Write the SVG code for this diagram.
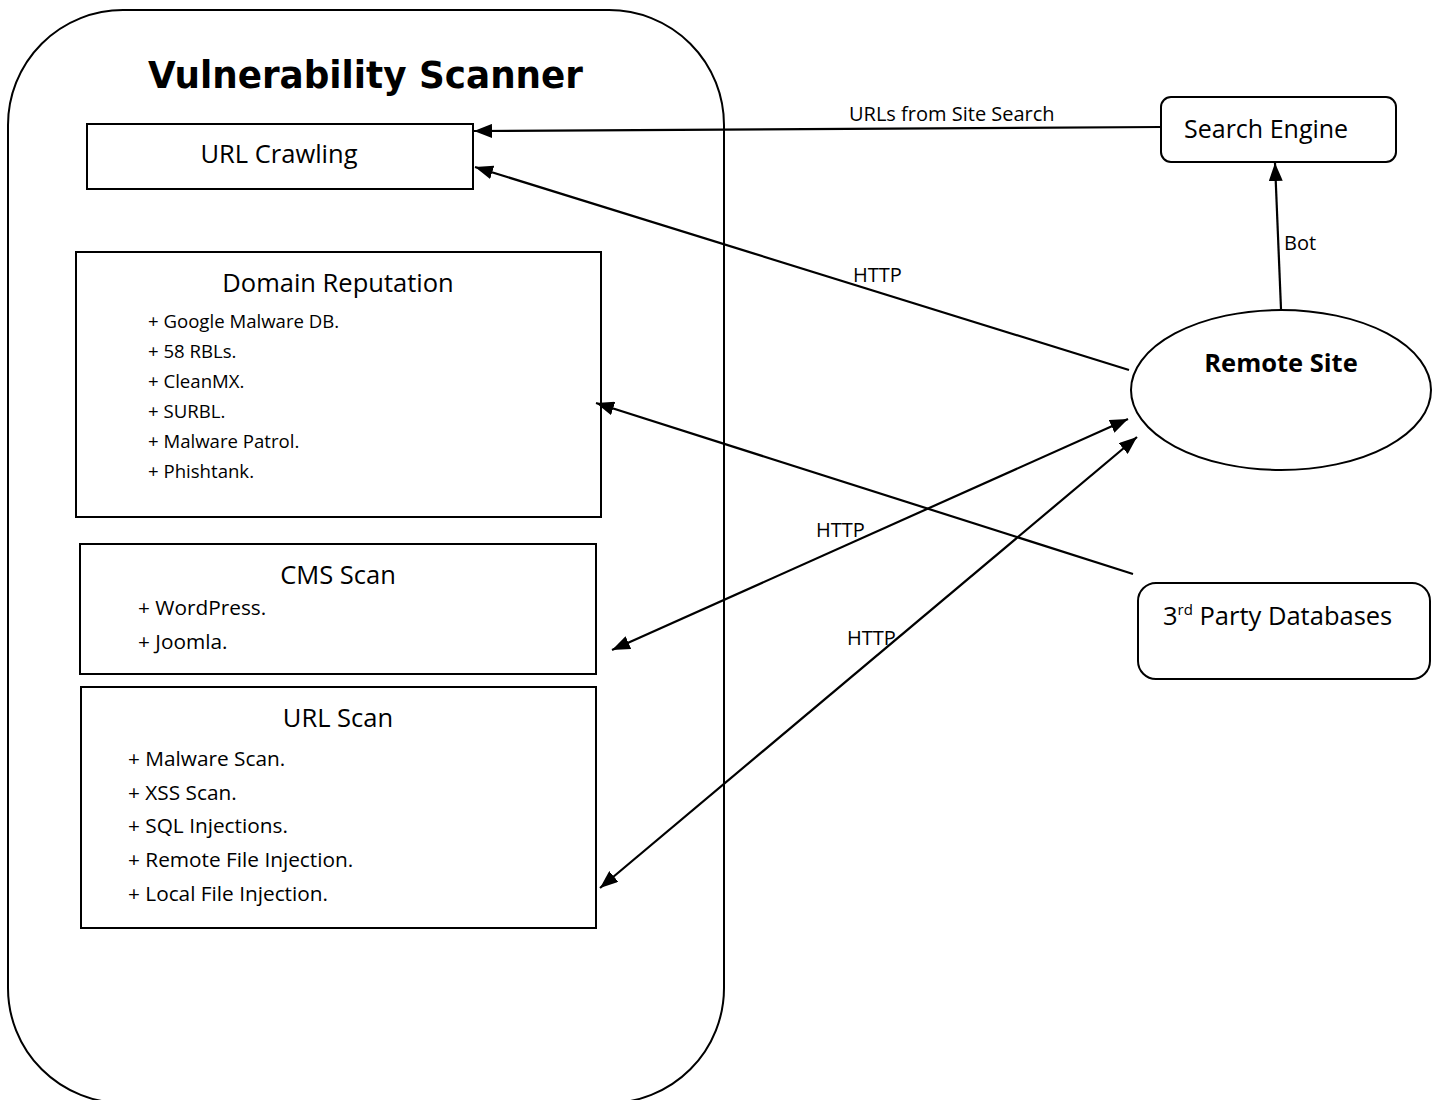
<svg xmlns="http://www.w3.org/2000/svg" width="1437" height="1100" viewBox="0 0 1437 1100">
  <defs>
    <style>
      .box { fill: #ffffff; stroke: #000000; stroke-width: 2; }
      .frame { fill: none; stroke: #000000; stroke-width: 2; }
      .link { fill: none; stroke: #000000; stroke-width: 2.2; }
      .t { font-family: "Open Sans", "Liberation Sans", sans-serif; fill: #000000; }
      .head { font-size: 25.5px; text-anchor: middle; }
      .item { font-size: 20.8px; }
      .small { font-size: 18.6px; }
      .lbl { font-size: 20px; }
      .title { font-family: "DejaVu Sans", "Liberation Sans", sans-serif; font-weight: bold; font-size: 37px; text-anchor: middle; }
    </style>
    <marker id="arrow" viewBox="0 0 18 14" refX="18" refY="7" markerWidth="18" markerHeight="14" markerUnits="userSpaceOnUse" orient="auto-start-reverse">
      <path d="M0,0 L18,7 L0,14 Z" fill="#000000"/>
    </marker>
  </defs>

  <rect width="1437" height="1100" fill="#ffffff"/>

  <!-- scanner container -->
  <g id="scanner">
    <rect class="frame" x="8" y="10" width="716" height="1093" rx="115" ry="115"/>
    <text class="title" x="365.5" y="88" textLength="435" lengthAdjust="spacingAndGlyphs">Vulnerability Scanner</text>
  </g>

  <g id="url-crawling">
    <rect class="box" x="87" y="124" width="386" height="65"/>
    <text class="t head" x="279" y="163" font-size="26.5px">URL Crawling</text>
  </g>

  <g id="domain-reputation">
    <rect class="box" x="76" y="252" width="525" height="265"/>
    <text class="t head" x="338" y="292">Domain Reputation</text>
    <text class="t small" x="148" y="328">+ Google Malware DB.</text>
    <text class="t small" x="148" y="358">+ 58 RBLs.</text>
    <text class="t small" x="148" y="388">+ CleanMX.</text>
    <text class="t small" x="148" y="418">+ SURBL.</text>
    <text class="t small" x="148" y="448">+ Malware Patrol.</text>
    <text class="t small" x="148" y="478">+ Phishtank.</text>
  </g>

  <g id="cms-scan">
    <rect class="box" x="80" y="544" width="516" height="130"/>
    <text class="t head" x="338" y="584">CMS Scan</text>
    <text class="t item" x="138" y="615">+ WordPress.</text>
    <text class="t item" x="138" y="649">+ Joomla.</text>
  </g>

  <g id="url-scan">
    <rect class="box" x="81" y="687" width="515" height="241"/>
    <text class="t head" x="338" y="727">URL Scan</text>
    <text class="t item" x="128" y="766">+ Malware Scan.</text>
    <text class="t item" x="128" y="800">+ XSS Scan.</text>
    <text class="t item" x="128" y="833">+ SQL Injections.</text>
    <text class="t item" x="128" y="867">+ Remote File Injection.</text>
    <text class="t item" x="128" y="901">+ Local File Injection.</text>
  </g>

  <g id="search-engine">
    <rect class="box" x="1161" y="97" width="235" height="65" rx="10" ry="10"/>
    <text class="t" x="1184" y="138" font-size="25px">Search Engine</text>
  </g>

  <g id="remote-site">
    <ellipse class="box" cx="1281" cy="390" rx="150" ry="80"/>
    <text class="t" x="1281" y="372" font-size="25.5px" font-weight="bold" text-anchor="middle">Remote Site</text>
  </g>

  <g id="third-party">
    <rect class="box" x="1138" y="583" width="292" height="96" rx="18" ry="18"/>
    <text class="t" x="1163" y="625" font-size="25.5px">3<tspan font-size="15px" dy="-10">rd</tspan><tspan dy="10"> Party Databases</tspan></text>
  </g>

  <!-- connectors -->
  <g id="connectors">
    <line class="link" x1="1161" y1="127" x2="474" y2="131" marker-end="url(#arrow)"/>
    <line class="link" x1="1129" y1="370" x2="475" y2="167" marker-end="url(#arrow)"/>
    <line class="link" x1="1133" y1="574" x2="596" y2="403" marker-end="url(#arrow)"/>
    <line class="link" x1="612" y1="650" x2="1128" y2="419" marker-start="url(#arrow)" marker-end="url(#arrow)"/>
    <line class="link" x1="600" y1="888" x2="1137" y2="437" marker-start="url(#arrow)" marker-end="url(#arrow)"/>
    <line class="link" x1="1281" y1="309" x2="1275" y2="163" marker-end="url(#arrow)"/>
    <text class="t lbl" x="849" y="121" font-size="20.7px">URLs from Site Search</text>
    <text class="t lbl" x="853" y="282">HTTP</text>
    <text class="t lbl" x="816" y="537">HTTP</text>
    <text class="t lbl" x="847" y="645">HTTP</text>
    <text class="t lbl" x="1284" y="250">Bot</text>
  </g>
</svg>
